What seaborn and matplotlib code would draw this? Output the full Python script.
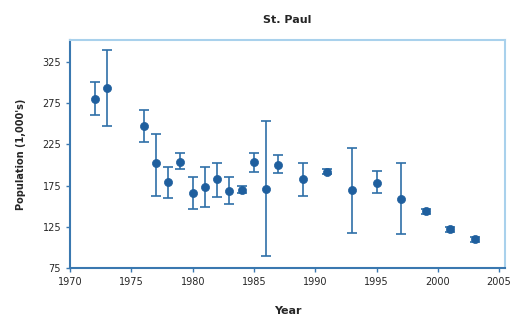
import numpy as np
import pandas as pd
import matplotlib
matplotlib.use("Agg")
import matplotlib.pyplot as plt
import seaborn as sns

# values
years = [1972, 1973, 1976, 1977, 1978, 1979, 1980, 1981, 1982, 1983, 1984,
         1985, 1986, 1987, 1989, 1991, 1993, 1995, 1997, 1999, 2001, 2003]
population = [280, 293, 247, 202, 179, 204, 166, 173, 183, 168, 170,
              204, 171, 200, 183, 192, 170, 178, 159, 144, 122, 110]
err_low = [261, 247, 228, 162, 160, 195, 147, 149, 161, 153, 166,
           192, 90, 190, 162, 189, 117, 166, 116, 141, 119, 107]
err_high = [301, 340, 267, 238, 198, 215, 185, 198, 202, 185, 174,
            215, 253, 212, 202, 195, 221, 193, 202, 147, 125, 113]

df = pd.DataFrame({"Year": years, "Population": population,
                   "low": err_low, "high": err_high})

sns.set_style("white")
plt.rcParams['font.family'] = ['DejaVu Sans']

fig = plt.figure(figsize=(5.16, 3.24), dpi=100)
ax = fig.add_axes([0.136, 0.173, 0.843, 0.704])

blue = "#1f5f9e"
yerr = np.array([df["Population"] - df["low"], df["high"] - df["Population"]])
ax.errorbar(df["Year"], df["Population"], yerr=yerr, fmt="none",
            ecolor="#2f6fa8", elinewidth=1.2, capsize=3.5, capthick=1.2, zorder=2)
sns.scatterplot(data=df, x="Year", y="Population", ax=ax, color=blue,
                s=34, edgecolor=blue, linewidth=0.5, zorder=3, legend=False)

ax.set_xlim(1970, 2005.5)
ax.set_ylim(75, 352)
ax.set_xticks([1970, 1975, 1980, 1985, 1990, 1995, 2000, 2005])
ax.set_yticks([75, 125, 175, 225, 275, 325])
ax.tick_params(axis="both", labelsize=7, length=3, width=1, color="#3a78b0",
               direction="out")
ax.tick_params(axis="x", bottom=True)
ax.tick_params(axis="y", left=True)

for side in ["left", "bottom"]:
    ax.spines[side].set_color("#3a78b0")
    ax.spines[side].set_linewidth(1.5)
for side in ["top", "right"]:
    ax.spines[side].set_color("#a9d1ec")
    ax.spines[side].set_linewidth(1.5)
    ax.spines[side].set_visible(True)

ax.set_title("St. Paul", fontsize=8, fontweight="bold", pad=12)
ax.set_xlabel("Year", fontsize=8, fontweight="bold", labelpad=14)
ax.set_ylabel("Population (1,000's)", fontsize=7, fontweight="bold", labelpad=12)

fig.savefig("out.png", dpi=100)
